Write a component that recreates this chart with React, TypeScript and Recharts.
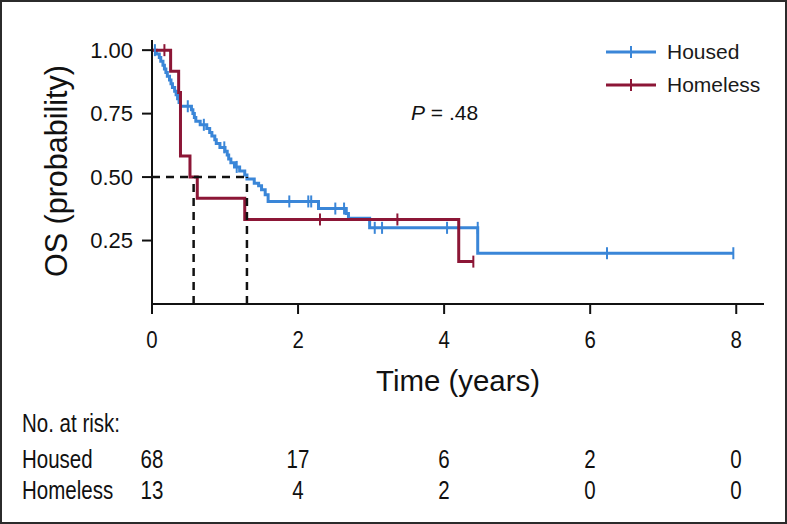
import React from 'react';
import { ComposedChart, Line, Scatter, XAxis, YAxis } from 'recharts';

// ---- Data ----
const housedTime = [0, 0.06, 0.10, 0.12, 0.15, 0.17, 0.19, 0.21, 0.24, 0.26, 0.28, 0.31, 0.33, 0.35, 0.37, 0.39, 0.54, 0.56, 0.58, 0.60, 0.66, 0.75, 0.79, 0.82, 0.86, 0.88, 0.93, 1.00, 1.03, 1.05, 1.08, 1.13, 1.20, 1.27, 1.30, 1.40, 1.46, 1.50, 1.55, 1.59, 2.28, 2.66, 2.69, 2.98, 4.46, 7.96];
const housedSurv = [1, 0.985, 0.971, 0.956, 0.941, 0.926, 0.912, 0.897, 0.882, 0.868, 0.853, 0.838, 0.824, 0.809, 0.794, 0.779, 0.765, 0.750, 0.735, 0.720, 0.706, 0.691, 0.676, 0.662, 0.647, 0.632, 0.617, 0.602, 0.587, 0.571, 0.556, 0.540, 0.524, 0.508, 0.492, 0.476, 0.466, 0.450, 0.430, 0.404, 0.376, 0.357, 0.338, 0.300, 0.200, 0.200];
const housedCensorTime = [0.04, 0.49, 0.71, 0.99, 1.16, 1.88, 2.14, 2.18, 2.51, 2.63, 3.05, 3.15, 4.04, 4.46, 6.23, 7.96];
const housedCensorSurv = [1.0, 0.779, 0.706, 0.617, 0.540, 0.404, 0.404, 0.404, 0.376, 0.376, 0.300, 0.300, 0.300, 0.300, 0.200, 0.200];

const homelessTime = [0, 0.255, 0.365, 0.39, 0.52, 0.62, 1.27, 4.20, 4.40];
const homelessSurv = [1, 0.917, 0.833, 0.583, 0.5, 0.417, 0.333, 0.167, 0.167];
const homelessCensorTime = [0.17, 2.30, 3.36, 4.40];
const homelessCensorSurv = [1.0, 0.333, 0.333, 0.167];

const medianHomeless = 0.57;
const medianHoused = 1.30;
const medianLevel = 0.5;

const xTicks = [0, 2, 4, 6, 8];
const yTicks = [0.25, 0.5, 0.75, 1.0];
const riskTimes = [0, 2, 4, 6, 8];
const housedAtRisk = [68, 17, 6, 2, 0];
const homelessAtRisk = [13, 4, 2, 0, 0];
const groupNames = ['Housed', 'Homeless'];
const pText = '= .48';

// ---- Styles ----
const BLUE = '#3a86d8';
const RED = '#8c1636';
const SANS = "'Liberation Sans', Arial, Helvetica, sans-serif";

const W = 787;
const H = 524;
const CH = 400;
const X_MAX = 8.38;
const Y_MAX = 1.04;
const margin = { top: 40, right: 23, left: 0, bottom: 0 };
const yAxisWidth = 152;
const plotBottom = 304;

const toPts = (t: number[], s: number[]) => t.map((v, i) => ({ t: v, S: s[i] }));

const housedData = toPts(housedTime, housedSurv);
const homelessData = toPts(homelessTime, homelessSurv);
const housedCensor = toPts(housedCensorTime, housedCensorSurv);
const homelessCensor = toPts(homelessCensorTime, homelessCensorSurv);
const dashH = [{ t: 0, S: medianLevel }, { t: medianHoused, S: medianLevel }];
const dashV1 = [{ t: medianHomeless, S: 0 }, { t: medianHomeless, S: medianLevel }];
const dashV2 = [{ t: medianHoused, S: 0 }, { t: medianHoused, S: medianLevel }];

const censorShape = (color: string) => (props: any) => {
  const { cx, cy } = props;
  if (cx == null || cy == null) return <g />;
  return <line x1={cx} x2={cx} y1={cy - 6} y2={cy + 6} stroke={color} strokeWidth={2} />;
};

const plotLeft = margin.left + yAxisWidth;
const plotRight = W - margin.right;
const xPix = (t: number) => plotLeft + (t / X_MAX) * (plotRight - plotLeft);

const XTick = (props: any) => {
  const { x, y, payload } = props;
  return (
    <text
      transform={`translate(${x}, ${y + 24}) scale(0.85, 1)`}
      textAnchor="middle"
      dominantBaseline="central"
      fontFamily={SANS}
      fontSize={24}
      fill="#111"
    >
      {payload.value}
    </text>
  );
};

const narrowDiv = (extra: any) => ({
  position: 'absolute' as const,
  whiteSpace: 'nowrap' as const,
  transform: 'scaleX(0.82)',
  lineHeight: '30px',
  ...extra,
});

export default function App() {
  const rowY = [459, 490];
  return (
    <div
      style={{
        position: 'fixed',
        left: 0,
        top: 0,
        width: W,
        height: H,
        boxSizing: 'border-box',
        border: '2px solid #2b2b2b',
        background: '#fff',
        overflow: 'hidden',
      }}
    >
      <div style={{ position: 'absolute', left: -2, top: -2 }}>
        <ComposedChart width={W} height={CH} margin={margin}>
          <XAxis
            type="number"
            dataKey="t"
            domain={[0, X_MAX]}
            ticks={xTicks}
            allowDataOverflow
            height={CH - plotBottom - margin.bottom}
            tickSize={10}
            tickMargin={2}
            axisLine={{ stroke: '#111', strokeWidth: 2 }}
            tickLine={{ stroke: '#111', strokeWidth: 2 }}
            tick={<XTick />}
            label={() => (
              <text
                x={458}
                y={380}
                textAnchor="middle"
                dominantBaseline="central"
                fontFamily={SANS}
                fontSize={30}
                textLength={164}
                lengthAdjust="spacingAndGlyphs"
                fill="#111"
              >
                Time (years)
              </text>
            )}
          />
          <YAxis
            type="number"
            dataKey="S"
            domain={[0, Y_MAX]}
            ticks={yTicks}
            allowDataOverflow
            width={yAxisWidth}
            tickSize={10}
            tickMargin={9}
            tickFormatter={(v: number) => v.toFixed(2)}
            axisLine={{ stroke: '#111', strokeWidth: 2 }}
            tickLine={{ stroke: '#111', strokeWidth: 2 }}
            tick={{ fill: '#111', fontSize: 22, fontFamily: SANS }}
            label={() => (
              <text
                x={56}
                y={171}
                transform="rotate(-90, 56, 171)"
                textAnchor="middle"
                dominantBaseline="central"
                fontFamily={SANS}
                fontSize={31}
                textLength={212}
                lengthAdjust="spacingAndGlyphs"
                fill="#111"
              >
                OS (probability)
              </text>
            )}
          />
          <Line data={housedData} dataKey="S" type="stepAfter" stroke={BLUE} strokeWidth={3} dot={false} activeDot={false} isAnimationActive={false} legendType="none" name="Housed" />
          <Line data={homelessData} dataKey="S" type="stepAfter" stroke={RED} strokeWidth={3} dot={false} activeDot={false} isAnimationActive={false} legendType="none" name="Homeless" />
          <Line data={dashH} dataKey="S" type="linear" stroke="#111" strokeWidth={2.5} strokeDasharray="8 6" dot={false} activeDot={false} isAnimationActive={false} legendType="none" />
          <Line data={dashV1} dataKey="S" type="linear" stroke="#111" strokeWidth={2.5} strokeDasharray="8 6" dot={false} activeDot={false} isAnimationActive={false} legendType="none" />
          <Line data={dashV2} dataKey="S" type="linear" stroke="#111" strokeWidth={2.5} strokeDasharray="8 6" dot={false} activeDot={false} isAnimationActive={false} legendType="none" />
          <Scatter data={housedCensor} dataKey="S" shape={censorShape(BLUE)} isAnimationActive={false} legendType="none" />
          <Scatter data={homelessCensor} dataKey="S" shape={censorShape(RED)} isAnimationActive={false} legendType="none" />
        </ComposedChart>
      </div>

      {/* Legend */}
      <div style={{ position: 'absolute', left: 603, top: 33, fontFamily: SANS, fontSize: 21, color: '#1a1a1a' }}>
        {groupNames.map((name, i) => {
          const c = i === 0 ? BLUE : RED;
          return (
            <div key={name} style={{ display: 'flex', alignItems: 'center', height: 33 }}>
              <svg width={52} height={16}>
                <line x1={1} x2={51} y1={8} y2={8} stroke={c} strokeWidth={3} />
                <line x1={26} x2={26} y1={2} y2={14} stroke={c} strokeWidth={2} />
              </svg>
              <span style={{ marginLeft: 10 }}>{name}</span>
            </div>
          );
        })}
      </div>

      <div
        style={{
          position: 'absolute',
          left: 409,
          top: 99,
          fontFamily: SANS,
          fontSize: 21,
          color: '#111',
          whiteSpace: 'nowrap',
        }}
      >
        <i>P</i> {pText}
      </div>

      {/* Number at risk */}
      <div style={{ position: 'absolute', left: 0, top: 0, fontFamily: SANS, fontSize: 25, color: '#111' }}>
        <div style={narrowDiv({ left: 20, top: 423 - 17, transformOrigin: 'left center' })}>No. at risk:</div>
        {[housedAtRisk, homelessAtRisk].map((row, r) => (
          <React.Fragment key={r}>
            <div style={narrowDiv({ left: 20, top: rowY[r] - 17, transformOrigin: 'left center' })}>
              {groupNames[r]}
            </div>
            {row.map((n, i) => (
              <div
                key={i}
                style={narrowDiv({
                  left: xPix(riskTimes[i]) - 2 - 30,
                  width: 60,
                  textAlign: 'center',
                  top: rowY[r] - 17,
                  transformOrigin: 'center center',
                })}
              >
                {n}
              </div>
            ))}
          </React.Fragment>
        ))}
      </div>
    </div>
  );
}
